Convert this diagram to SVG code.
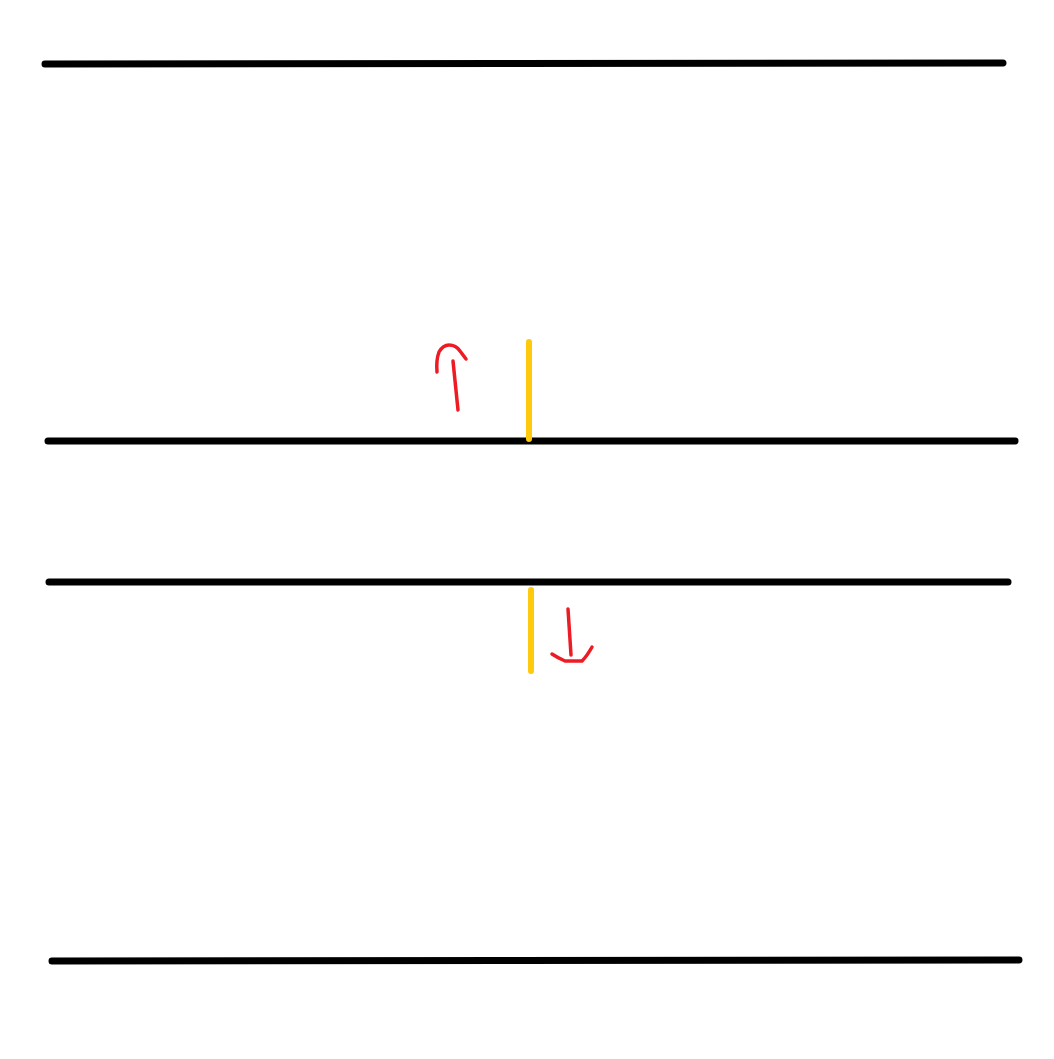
<svg xmlns="http://www.w3.org/2000/svg" width="1054" height="1059" viewBox="0 0 1054 1059">
<style>
.k{stroke:#000;stroke-width:7;stroke-linecap:round;fill:none}
.y{stroke:#FFC90E;stroke-width:6;stroke-linecap:round;fill:none}
.r{stroke:#ED1C24;stroke-width:3.5;stroke-linecap:round;stroke-linejoin:round;fill:none}
</style>
<rect width="1054" height="1059" fill="#fff"/>
<g id="lines">
<line class="k" x1="45" y1="64" x2="1003" y2="63"/>
<line class="k" x1="48" y1="441" x2="1015" y2="441"/>
<line class="k" x1="49" y1="582" x2="1008" y2="582"/>
<line class="k" x1="52" y1="961" x2="1019" y2="960"/>
</g>
<g id="gates">
<line class="y" x1="529" y1="342" x2="529" y2="439"/>
<line class="y" x1="531" y1="590" x2="531" y2="671"/>
</g>
<g id="arrows">
<path class="r" d="M458 410 L453 361"/>
<path class="r" d="M437 372 Q436 360 439 352 Q443 345 449 345 Q456 345 460 351 L466 359"/>
<path class="r" d="M568 609 L571 655"/>
<path class="r" d="M552 654 Q558 658 565 661 L582 661 Q587 656 592 647"/>
</g>
</svg>
